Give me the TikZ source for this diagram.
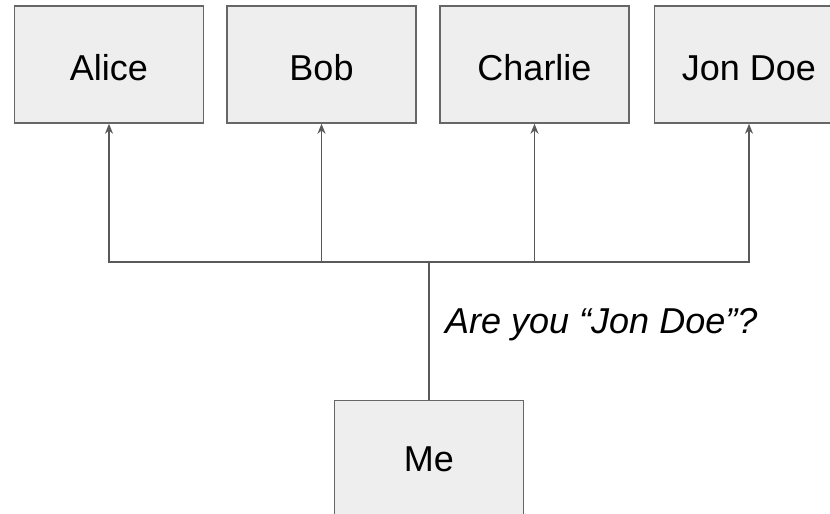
\documentclass[tikz,border=0pt]{standalone}
\usepackage{fontspec}
\setmainfont{Liberation Sans}
\usetikzlibrary{arrows.meta}
\definecolor{boxfill}{HTML}{EEEEEE}
\definecolor{boxline}{HTML}{666666}
\definecolor{conn}{HTML}{595959}
\begin{document}
\begin{tikzpicture}[x=1pt,y=-1pt,
  person/.style={draw=boxline,fill=boxfill,line width=1.5pt,rectangle,
    minimum width=189pt,minimum height=117pt,inner sep=0pt,
    font=\fontsize{36}{42}\selectfont},
  toprow/.style={text height=32pt,text depth=0pt},
  link/.style={draw=conn,line width=1.3pt},
  tip/.style={-{Stealth[length=10pt,width=8pt]}}]
\useasboundingbox (0,0) rectangle (830,514);
\node[person,toprow] (alice) at (109,64.5) {Alice};
\node[person,toprow] (bob) at (321.5,64.5) {Bob};
\node[person,toprow] (charlie) at (534.5,64.5) {Charlie};
\node[person,toprow] (jon) at (749,64.5) {Jon Doe};
\node[person] (me) at (429,459) {Me};
\coordinate (hub) at (429,262);
\draw[link] (me) -- (hub);
\draw[link,tip] (hub) -| (alice);
\draw[link,tip] (hub) -| (bob);
\draw[link,tip] (hub) -| (charlie);
\draw[link,tip] (hub) -| (jon);
\node[anchor=base west,inner sep=0pt,font=\fontsize{36}{42}\selectfont\itshape] (q) at (445,333) {Are you “Jon Doe”?};
\end{tikzpicture}
\end{document}
